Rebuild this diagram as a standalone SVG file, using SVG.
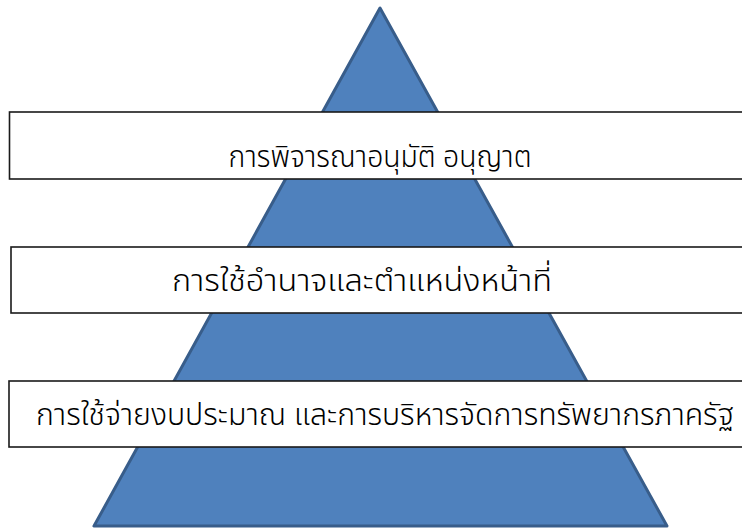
<svg xmlns="http://www.w3.org/2000/svg" width="742" height="532" viewBox="0 0 742 532">
<style>
.band{fill:#ffffff;stroke:#1a1a1a;stroke-width:1.6}
.lbl{font-family:"Noto Sans Thai","Noto Sans Thai UI","Noto Sans","DejaVu Sans",sans-serif;font-size:31px;font-weight:300;fill:#000000;text-anchor:middle}
</style>
<g id="pyramid">
<polygon points="380,8 94,526 667,526" fill="#4F81BD" stroke="#385D8A" stroke-width="3" stroke-linejoin="round"/>
</g>
<g id="band1">
<rect class="band" x="9.5" y="112" width="760" height="67"/>
<text class="lbl" x="380" y="167" textLength="303" lengthAdjust="spacingAndGlyphs">การพิจารณาอนุมัติ อนุญาต</text>
</g>
<g id="band2">
<rect class="band" x="11" y="247" width="760" height="66"/>
<text class="lbl" x="362" y="291" textLength="380" lengthAdjust="spacingAndGlyphs">การใช้อำนาจและตำแหน่งหน้าที่</text>
</g>
<g id="band3">
<rect class="band" x="9" y="381" width="760" height="66"/>
<text class="lbl" x="385" y="425" textLength="698" lengthAdjust="spacingAndGlyphs">การใช้จ่ายงบประมาณ และการบริหารจัดการทรัพยากรภาครัฐ</text>
</g>
</svg>
